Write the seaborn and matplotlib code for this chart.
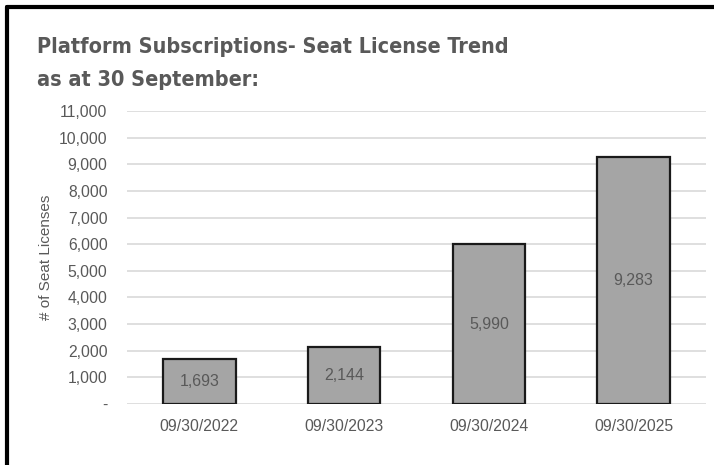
import matplotlib
matplotlib.use("Agg")
import matplotlib.pyplot as plt
import seaborn as sns
import pandas as pd
from matplotlib.ticker import FuncFormatter

categories = ["09/30/2022", "09/30/2023", "09/30/2024", "09/30/2025"]
values = [1693, 2144, 5990, 9283]
yticks = list(range(0, 11001, 1000))

df = pd.DataFrame({"date": categories, "seats": values})

sns.set_theme(style="white")
plt.rcParams['font.family'] = ['Liberation Sans', 'DejaVu Sans']

TXT = "#595959"
fig = plt.figure(figsize=(7.14, 4.65), dpi=100)
ax = fig.add_axes([127/714, 1-404/465, (706-127)/714, (404-111)/465])

sns.barplot(data=df, x="date", y="seats", color="#A5A5A5", width=0.5,
            edgecolor="#1a1a1a", linewidth=1.6, saturation=1, ax=ax, zorder=3)

ax.set_ylim(0, 11000)
ax.set_xlim(-0.5, 3.5)
ax.set_yticks(yticks)
ax.yaxis.set_major_formatter(FuncFormatter(lambda v, p: "-" if v == 0 else f"{int(v):,}"))
ax.grid(axis="y", color="#D9D9D9", linewidth=1.2, zorder=0)
ax.set_axisbelow(True)
for s in ax.spines.values():
    s.set_visible(False)
ax.tick_params(axis="y", colors=TXT, labelsize=11.3, length=0, pad=14)
ax.tick_params(axis="x", colors=TXT, labelsize=11.3, length=0, pad=11)
ax.set_xlabel("")
ax.set_ylabel("# of Seat Licenses", color=TXT, fontsize=11, labelpad=4)

for i, v in enumerate(values):
    ax.text(i, v / 2, f"{v:,}", ha="center", va="center", color=TXT, fontsize=11.5, zorder=4)

fig.text(37/714, 1-53/465, "Platform Subscriptions- Seat License Trend",
         fontsize=15.5, fontweight="bold", color=TXT, fontstretch="condensed",
         family=["DejaVu Sans"], ha="left", va="baseline")
fig.text(37/714, 1-86/465, "as at 30 September:",
         fontsize=15.5, fontweight="bold", color=TXT, fontstretch="condensed",
         family=["DejaVu Sans"], ha="left", va="baseline")

# frame border (left and top)
fig.add_artist(plt.Line2D([7/714, 7/714], [0, 1-7/465], color="black", linewidth=3, transform=fig.transFigure))
fig.add_artist(plt.Line2D([7/714, 1], [1-7/465, 1-7/465], color="black", linewidth=3, transform=fig.transFigure))

fig.savefig("out.png", dpi=100)
